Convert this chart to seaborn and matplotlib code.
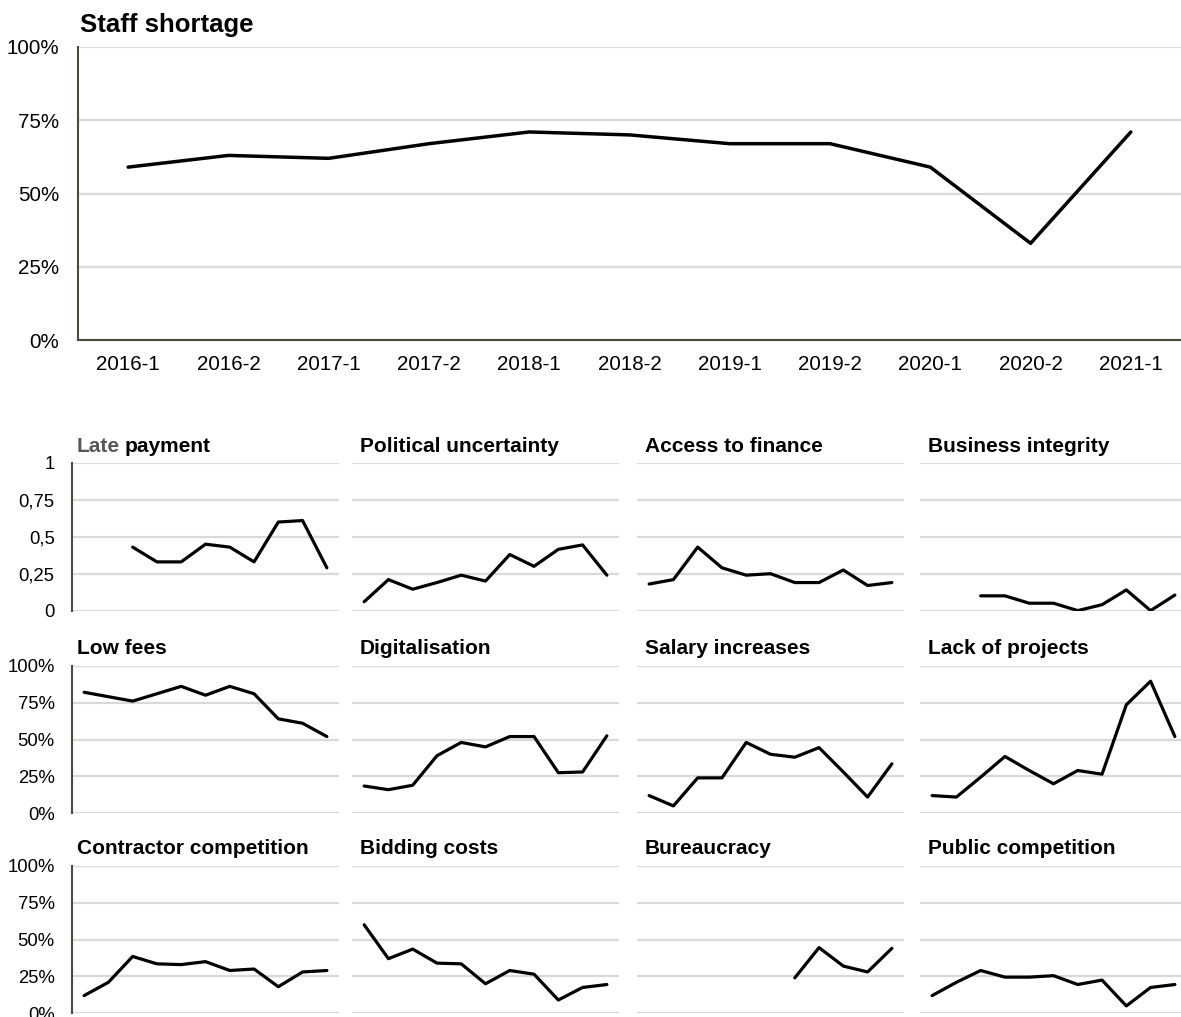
import numpy as np
import pandas as pd
import matplotlib
matplotlib.use("Agg")
import matplotlib.pyplot as plt
import seaborn as sns

nan = np.nan

# ---------------- data ----------------
periods = ["2016-1", "2016-2", "2017-1", "2017-2", "2018-1", "2018-2",
           "2019-1", "2019-2", "2020-1", "2020-2", "2021-1"]

staff_shortage = [0.59, 0.63, 0.62, 0.67, 0.71, 0.70, 0.67, 0.67, 0.59, 0.33, 0.71]

late_payment = [nan, nan, 0.43, 0.33, 0.33, 0.45, 0.43, 0.33, 0.60, 0.61, 0.29]
political_uncertainty = [0.06, 0.21, 0.145, 0.19, 0.24, 0.20, 0.38, 0.30, 0.415, 0.445, 0.24]
access_to_finance = [0.18, 0.21, 0.43, 0.29, 0.24, 0.25, 0.19, 0.19, 0.275, 0.17, 0.19]
business_integrity = [nan, nan, 0.10, 0.10, 0.05, 0.05, 0.0, 0.04, 0.14, 0.0, 0.105]

low_fees = [0.82, 0.79, 0.76, 0.81, 0.86, 0.80, 0.86, 0.81, 0.64, 0.61, 0.52]
digitalisation = [0.185, 0.16, 0.19, 0.39, 0.48, 0.45, 0.52, 0.52, 0.275, 0.28, 0.525]
salary_increases = [0.12, 0.05, 0.24, 0.24, 0.48, 0.40, 0.38, 0.445, 0.28, 0.11, 0.335]
lack_of_projects = [0.12, 0.11, 0.245, 0.385, 0.29, 0.20, 0.29, 0.265, 0.735, 0.895, 0.52]

contractor_competition = [0.12, 0.21, 0.385, 0.335, 0.33, 0.35, 0.29, 0.30, 0.18, 0.28, 0.29]
bidding_costs = [0.60, 0.37, 0.435, 0.34, 0.335, 0.20, 0.29, 0.265, 0.09, 0.175, 0.195]
bureaucracy = [nan, nan, nan, nan, nan, nan, 0.24, 0.445, 0.32, 0.28, 0.44]
public_competition = [0.12, 0.21, 0.29, 0.245, 0.245, 0.255, 0.195, 0.225, 0.05, 0.175, 0.195]

panel_titles = [
    ["Late payment", "Political uncertainty", "Access to finance", "Business integrity"],
    ["Low fees", "Digitalisation", "Salary increases", "Lack of projects"],
    ["Contractor competition", "Bidding costs", "Bureaucracy", "Public competition"],
]
panel_values = [
    [late_payment, political_uncertainty, access_to_finance, business_integrity],
    [low_fees, digitalisation, salary_increases, lack_of_projects],
    [contractor_competition, bidding_costs, bureaucracy, public_competition],
]

y_ticks = [0, 0.25, 0.5, 0.75, 1.0]
comma_labels = ["0", "0,25", "0,5", "0,75", "1"]
pct_labels = ["0%", "25%", "50%", "75%", "100%"]

# ---------------- style ----------------
sns.set_theme(style="white")
plt.rcParams["font.family"] = ["Liberation Sans", "DejaVu Sans"]

GRID = "#d9d9d9"
SPINE = "#4d4a3c"

W, H = 1181, 1017
fig = plt.figure(figsize=(W / 100, H / 100), dpi=100)


def px_axes(left, top, width, height):
    return fig.add_axes([left / W, 1 - (top + height) / H, width / W, height / H])


# ---------------- top chart ----------------
ax = px_axes(78, 47, 1103, 293)
idx = np.arange(len(periods))
df_top = pd.DataFrame({"x": idx, "y": staff_shortage})
sns.lineplot(data=df_top, x="x", y="y", ax=ax, color="black", lw=2.5)
ax.set_xlim(-0.5, len(periods) - 0.5)
ax.set_ylim(0, 1)
ax.set_yticks(y_ticks)
ax.set_yticklabels(pct_labels)
ax.set_xticks(idx)
ax.set_xticklabels(periods)
ax.set_xlabel("")
ax.set_ylabel("")
ax.yaxis.grid(True, color=GRID, lw=1.6)
ax.xaxis.grid(False)
ax.set_axisbelow(True)
for s in ["top", "right"]:
    ax.spines[s].set_visible(False)
for s in ["left", "bottom"]:
    ax.spines[s].set_color(SPINE)
    ax.spines[s].set_linewidth(1.5)
ax.tick_params(axis="y", length=0, pad=13.5, labelsize=14.75, labelcolor="black")
ax.tick_params(axis="x", length=0, pad=11, labelsize=14.75, labelcolor="black")
fig.text(80 / W, 1 - 31.7 / H, "Staff shortage", fontsize=18.5, fontweight="bold",
         va="baseline", ha="left", color="black")

# ---------------- small multiples ----------------
col_lefts = [72, 352, 637, 920]
row_tops = [463, 665.7, 865.7]
panel_w, panel_h = 267, 147.6
title_x = [77, 360, 645, 928]
title_base = [451.7, 654.3, 853.5]
TITLE_FS = 15
TICK_FS = 13.3

for r in range(3):
    for c in range(4):
        ax = px_axes(col_lefts[c], row_tops[r], panel_w, panel_h)
        df = pd.DataFrame({"x": idx, "y": panel_values[r][c]})
        sns.lineplot(data=df, x="x", y="y", ax=ax, color="black", lw=2.3)
        ax.set_xlim(-0.5, len(periods) - 0.5)
        ax.set_ylim(0, 1)
        ax.set_yticks(y_ticks)
        ax.set_xticks([])
        ax.set_xlabel("")
        ax.set_ylabel("")
        ax.yaxis.grid(True, color=GRID, lw=1.6)
        ax.xaxis.grid(False)
        ax.set_axisbelow(True)
        for s in ["top", "right", "bottom"]:
            ax.spines[s].set_visible(False)
        if c == 0:
            ax.spines["left"].set_color(SPINE)
            ax.spines["left"].set_linewidth(1.5)
            ax.set_yticklabels(comma_labels if r == 0 else pct_labels)
            ax.tick_params(axis="y", length=0, pad=12.5, labelsize=TICK_FS, labelcolor="black")
        else:
            ax.spines["left"].set_visible(False)
            ax.set_yticklabels([])
            ax.tick_params(axis="y", length=0)
        title = panel_titles[r][c]
        tx, ty = title_x[c] / W, 1 - title_base[r] / H
        if title == "Late payment":
            t1 = fig.text(tx, ty, "Late", fontsize=TITLE_FS, fontweight="bold",
                          color="#595959", ha="left", va="baseline")
            fig.canvas.draw()
            bb = t1.get_window_extent()
            fig.text((bb.x1 + 4.5) / W, ty, "payment", fontsize=TITLE_FS,
                     fontweight="bold", color="black", ha="left", va="baseline")
        else:
            fig.text(tx, ty, title, fontsize=TITLE_FS, fontweight="bold",
                     color="black", ha="left", va="baseline")

fig.savefig("out.png", dpi=100)
